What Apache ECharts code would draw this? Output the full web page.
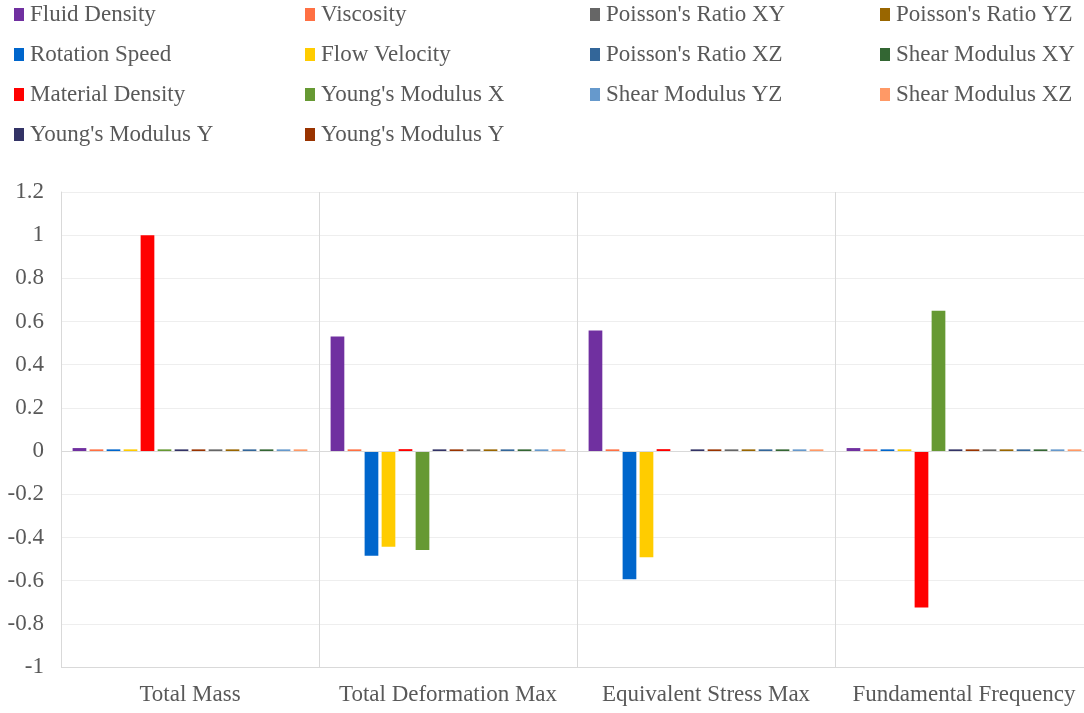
<!DOCTYPE html>
<html>
<head>
<meta charset="utf-8">
<script src="https://cdn.jsdelivr.net/npm/echarts@6/dist/echarts.min.js"></script>
<style>
  html, body { margin: 0; padding: 0; background: #fff; overflow: hidden; }
  #chart { width: 1100px; height: 713px; }
</style>
</head>
<body>
<div id="chart"></div>
<script>
// Output responses (categories on the x axis)
const categories = ['Total Mass', 'Total Deformation Max', 'Equivalent Stress Max', 'Fundamental Frequency'];

// Input parameters: series keys, displayed names and colours
const seriesKeys = [
  'fluidDensity', 'viscosity', 'rotationSpeed', 'flowVelocity', 'materialDensity',
  'youngX', 'youngY1', 'youngY2', 'poissonXY', 'poissonYZ', 'poissonXZ',
  'shearXY', 'shearYZ', 'shearXZ'
];
const seriesLabels = [
  'Fluid Density', 'Viscosity', 'Rotation Speed', 'Flow Velocity', 'Material Density',
  "Young's Modulus X", "Young's Modulus Y", "Young's Modulus Y", "Poisson's Ratio XY",
  "Poisson's Ratio YZ", "Poisson's Ratio XZ", 'Shear Modulus XY', 'Shear Modulus YZ',
  'Shear Modulus XZ'
];
const seriesColors = [
  '#7030A0', '#FF7043', '#0066CC', '#FFCC00', '#FF0000',
  '#669933', '#333366', '#993300', '#666666', '#996600', '#336699',
  '#336633', '#6699CC', '#FF9966'
];

// Sensitivity values per parameter, one entry per category
const fluidDensity    = [0.014, 0.531, 0.559, 0.014];
const viscosity       = [0.008, 0.008, 0.008, 0.008];
const rotationSpeed   = [0.008, -0.485, -0.593, 0.008];
const flowVelocity    = [0.008, -0.443, -0.492, 0.008];
const materialDensity = [1.0, 0.009, 0.009, -0.724];
const youngX          = [0.008, -0.458, 0, 0.650];
const youngY1         = [0.008, 0.008, 0.008, 0.008];
const youngY2         = [0.008, 0.008, 0.008, 0.008];
const poissonXY       = [0.008, 0.008, 0.008, 0.008];
const poissonYZ       = [0.008, 0.008, 0.008, 0.008];
const poissonXZ       = [0.008, 0.008, 0.008, 0.008];
const shearXY         = [0.008, 0.008, 0.008, 0.008];
const shearYZ         = [0.008, 0.008, 0.008, 0.008];
const shearXZ         = [0.008, 0.008, 0.008, 0.008];

// Y axis range
const yMin = -1;
const yMax = 1.2;
const yStep = 0.2;

const valuesByKey = {
  fluidDensity, viscosity, rotationSpeed, flowVelocity, materialDensity,
  youngX, youngY1, youngY2, poissonXY, poissonYZ, poissonXZ,
  shearXY, shearYZ, shearXZ
};

// Legend grid: four rows, four columns
const legendCells = [
  ['fluidDensity', 0, 0], ['viscosity', 1, 0], ['poissonXY', 2, 0], ['poissonYZ', 3, 0],
  ['rotationSpeed', 0, 1], ['flowVelocity', 1, 1], ['poissonXZ', 2, 1], ['shearXY', 3, 1],
  ['materialDensity', 0, 2], ['youngX', 1, 2], ['shearYZ', 2, 2], ['shearXZ', 3, 2],
  ['youngY1', 0, 3], ['youngY2', 1, 3]
];
const legendColX = [14, 305, 590, 880];
const legendRowY = [15, 55, 95, 135];

const fontFamily = 'Liberation Serif';
const textColor = '#595959';
const lineColor = '#d9d9d9';
const gridColor = '#eeeeee';

const labelOf = {};
seriesKeys.forEach((k, i) => { labelOf[k] = seriesLabels[i]; });

const legends = legendCells.map(([key, col, row]) => ({
  show: true,
  orient: 'horizontal',
  left: legendColX[col],
  top: legendRowY[row] - 12,
  icon: 'rect',
  itemWidth: 10,
  itemHeight: 13,
  itemGap: 0,
  padding: 0,
  selectedMode: false,
  data: [key],
  formatter: name => labelOf[name],
  textStyle: { fontFamily, fontSize: 23, color: textColor, padding: [0, 0, 0, 1] }
}));

const series = seriesKeys.map((key, i) => ({
  name: key,
  type: 'bar',
  data: valuesByKey[key],
  itemStyle: { color: seriesColors[i] },
  barGap: '24%',
  barCategoryGap: '9%',
  animation: false
}));

// Zero baseline and bottom border drawn over the faint gridlines
series[0].markLine = {
  silent: true,
  symbol: 'none',
  label: { show: false },
  lineStyle: { color: lineColor, width: 1, type: 'solid' },
  data: [{ yAxis: 0 }, { yAxis: yMin }]
};

const chart = echarts.init(document.getElementById('chart'), null, { renderer: 'canvas' });
chart.setOption({
  backgroundColor: '#ffffff',
  animation: false,
  legend: legends,
  grid: { left: 61, top: 192, width: 1032, height: 475, containLabel: false },
  xAxis: {
    type: 'category',
    data: categories,
    axisLine: { show: false, onZero: false },
    axisTick: { show: false },
    splitLine: { show: true, interval: 0, lineStyle: { color: lineColor, width: 1 } },
    axisLabel: { interval: 0, fontFamily, fontSize: 23, color: textColor, margin: 16 }
  },
  yAxis: {
    type: 'value',
    min: yMin,
    max: yMax,
    interval: yStep,
    axisLine: { show: true, lineStyle: { color: lineColor, width: 1 } },
    axisTick: { show: false },
    splitLine: { show: true, lineStyle: { color: gridColor, width: 1 } },
    axisLabel: {
      fontFamily, fontSize: 23, color: textColor, margin: 17,
      formatter: v => String(Math.round(v * 10) / 10)
    }
  },
  series
});
</script>
</body>
</html>
